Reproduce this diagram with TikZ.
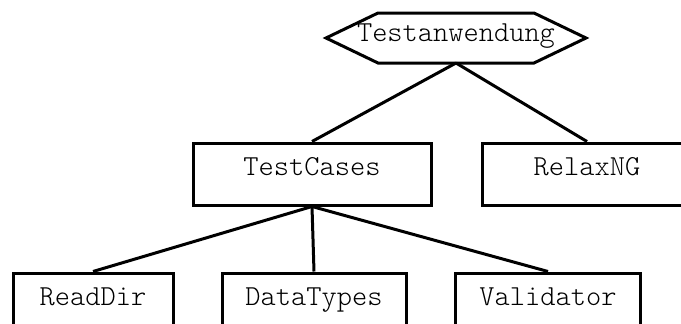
\documentclass[tikz,border=0pt]{standalone}
\usepackage{fontspec}
\usepackage{tikz}
\usetikzlibrary{calc}
\newfontfamily\codefont{Latin Modern Mono Light}

\begin{document}
\begin{tikzpicture}[
    x=1pt, y=-1pt,
    cls/.style={rectangle, draw=black, line width=3pt, minimum height=62pt,
                font=\codefont\fontsize{29}{31}\selectfont, inner sep=0pt,
                text height=0.6em, text depth=0.3em},
    app/.style={rectangle, minimum height=50pt,
                font=\codefont\fontsize{29}{31}\selectfont, inner sep=0pt,
                text height=0.7em, text depth=0em},
    edge/.style={line width=3pt}
  ]
    \useasboundingbox (0,0) rectangle (681,324);
    \clip (0,0) rectangle (681,324);

    % application on top
    \node[app] (app) at (456,38) {Testanwendung};
    \draw[edge, line join=miter] ($(app.center)+(-78,-25)$) -- ($(app.center)+(78,-25)$)
        -- ($(app.center)+(130,0)$) -- ($(app.center)+(78,25)$)
        -- ($(app.center)+(-78,25)$) -- ($(app.center)+(-130,0)$) -- cycle;

    % packages
    \node[cls, minimum width=238pt] (tc) at (312,174) {TestCases};
    \node[cls, minimum width=210pt] (rng) at (587,174) {RelaxNG};

    % classes
    \node[cls, minimum width=160pt] (rd) at (93,304) {ReadDir};
    \node[cls, minimum width=184pt] (dt) at (314,304) {DataTypes};
    \node[cls, minimum width=185pt] (val) at (548,304) {Validator};

    \draw[edge] ($(app.center)+(0,25)$) -- (tc.north);
    \draw[edge] ($(app.center)+(0,25)$) -- (rng.north);

    \draw[edge] (tc.south) -- (rd.north);
    \draw[edge] (tc.south) -- (dt.north);
    \draw[edge] (tc.south) -- (val.north);
\end{tikzpicture}
\end{document}
